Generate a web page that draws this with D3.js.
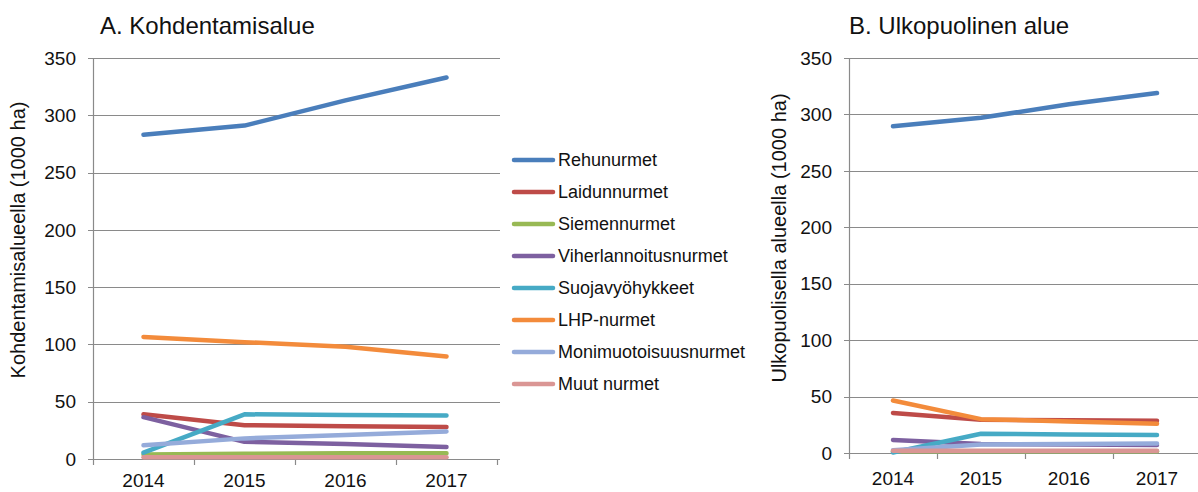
<!DOCTYPE html>
<html>
<head>
<meta charset="utf-8">
<script src="https://cdn.jsdelivr.net/npm/d3@7"></script>
<style>
  html, body { margin: 0; padding: 0; background: #fff; }
  svg { display: block; font-family: "Liberation Sans", Arial, sans-serif; }
</style>
</head>
<body>
<svg id="chart" width="1198" height="492"></svg>
<script>
// Years on the x axis
const years = ["2014", "2015", "2016", "2017"];
const yTicks = [0, 50, 100, 150, 200, 250, 300, 350];

// Series names (legend order)
const seriesNames = ["Rehunurmet", "Laidunnurmet", "Siemennurmet", "Viherlannoitusnurmet",
  "Suojavyöhykkeet", "LHP-nurmet", "Monimuotoisuusnurmet", "Muut nurmet"];
const seriesColors = ["#4A7EBB", "#BE4B48", "#98B954", "#7D60A0",
  "#46AAC5", "#F38B3B", "#95ABDA", "#DA9694"];

// A. Kohdentamisalue, 1000 ha
const aRehu    = [283, 291, 313, 333];
const aLaidun  = [39, 29.5, 28.5, 28];
const aSiemen  = [4, 4.5, 5, 5];
const aViher   = [36.5, 15, 13, 10.5];
const aSuoja   = [5.5, 39, 38.5, 38];
const aLhp     = [106.5, 102, 98, 89.5];
const aMoni    = [12, 18, 21, 24];
const aMuut    = [1.5, 1.5, 1.5, 1.5];

// B. Ulkopuolinen alue, 1000 ha
const bRehu    = [289.5, 297, 309, 319];
const bLaidun  = [35.5, 29.5, 29, 28.5];
const bSiemen  = [1.5, 1.5, 1.5, 1.5];
const bViher   = [11.5, 8, 7.5, 7];
const bSuoja   = [0.5, 17, 16.5, 16];
const bLhp     = [46.5, 30, 28, 26];
const bMoni    = [2.5, 7.5, 8, 8.5];
const bMuut    = [2, 2, 2, 2];

const panelA = [aRehu, aLaidun, aSiemen, aViher, aSuoja, aLhp, aMoni, aMuut];
const panelB = [bRehu, bLaidun, bSiemen, bViher, bSuoja, bLhp, bMoni, bMuut];

const svg = d3.select("#chart");
const axisColor = "#8a8a8a";
const textColor = "#111";

function drawPanel(cfg) {
  const g = svg.append("g");
  const x = d3.scaleBand().domain(years).range([cfg.x0, cfg.x1]).padding(0);
  const y = d3.scaleLinear().domain([0, 350]).range([cfg.y0, cfg.y1]);

  // horizontal gridlines (each starts at its outer tick mark)
  g.selectAll("line.grid").data(yTicks).join("line")
    .attr("x1", cfg.x0 - 5).attr("x2", cfg.gridEnd)
    .attr("y1", d => Math.round(y(d)) + 0.5).attr("y2", d => Math.round(y(d)) + 0.5)
    .attr("stroke", axisColor).attr("stroke-width", 1);

  // y axis line
  g.append("line")
    .attr("x1", cfg.x0 + 0.5).attr("x2", cfg.x0 + 0.5)
    .attr("y1", y(350)).attr("y2", y(0))
    .attr("stroke", axisColor).attr("stroke-width", 1.2);

  // y tick labels
  g.selectAll("text.ytick").data(yTicks).join("text")
    .attr("x", cfg.x0 - 17).attr("y", d => y(d))
    .attr("dy", "0.35em").attr("text-anchor", "end")
    .attr("font-size", 19).attr("fill", textColor)
    .text(d => d);

  // x tick marks at category boundaries
  const edges = years.map(d => x(d)).concat([cfg.x1]);
  g.selectAll("line.xtick").data(edges).join("line")
    .attr("x1", d => Math.round(d) + 0.5).attr("x2", d => Math.round(d) + 0.5)
    .attr("y1", y(0)).attr("y2", y(0) + 6)
    .attr("stroke", axisColor).attr("stroke-width", 1.2);

  // x tick labels
  g.selectAll("text.xtick").data(years).join("text")
    .attr("x", d => x(d) + x.bandwidth() / 2).attr("y", cfg.xLabelY)
    .attr("text-anchor", "middle")
    .attr("font-size", 19).attr("fill", textColor)
    .text(d => d);

  // series lines
  const line = d3.line()
    .x((d, i) => x(years[i]) + x.bandwidth() / 2)
    .y(d => y(d));
  cfg.data.forEach((vals, k) => {
    g.append("path")
      .attr("d", line(vals))
      .attr("fill", "none")
      .attr("stroke", seriesColors[k])
      .attr("stroke-width", 4.5)
      .attr("stroke-linejoin", "round")
      .attr("stroke-linecap", "round");
  });

  // panel title
  g.append("text")
    .attr("x", cfg.titleX).attr("y", 34)
    .attr("font-size", 24).attr("fill", textColor)
    .text(cfg.title);

  // y axis title
  g.append("text")
    .attr("transform", `translate(${cfg.yTitleX},${cfg.yTitleY}) rotate(-90)`)
    .attr("text-anchor", "middle")
    .attr("font-size", 20).attr("fill", textColor)
    .text(cfg.yTitle);
}

drawPanel({
  x0: 93, x1: 497, y0: 459, y1: 58, gridEnd: 500, xLabelY: 487,
  data: panelA, title: "A. Kohdentamisalue", titleX: 100,
  yTitle: "Kohdentamisalueella (1000 ha)", yTitleX: 25, yTitleY: 240
});

drawPanel({
  x0: 849, x1: 1201, y0: 453, y1: 58, gridEnd: 1198, xLabelY: 485,
  data: panelB, title: "B. Ulkopuolinen alue", titleX: 849,
  yTitle: "Ulkopuolisella alueella (1000 ha)", yTitleX: 786, yTitleY: 238
});

// legend
const legend = svg.append("g");
const legY = d3.scalePoint().domain(seriesNames).range([160, 384]);
seriesNames.forEach((name, k) => {
  legend.append("line")
    .attr("x1", 514).attr("x2", 553)
    .attr("y1", legY(name)).attr("y2", legY(name))
    .attr("stroke", seriesColors[k]).attr("stroke-width", 4.5)
    .attr("stroke-linecap", "round");
  legend.append("text")
    .attr("x", 558).attr("y", legY(name)).attr("dy", "0.35em")
    .attr("font-size", 18).attr("fill", textColor)
    .text(name);
});
</script>
</body>
</html>
